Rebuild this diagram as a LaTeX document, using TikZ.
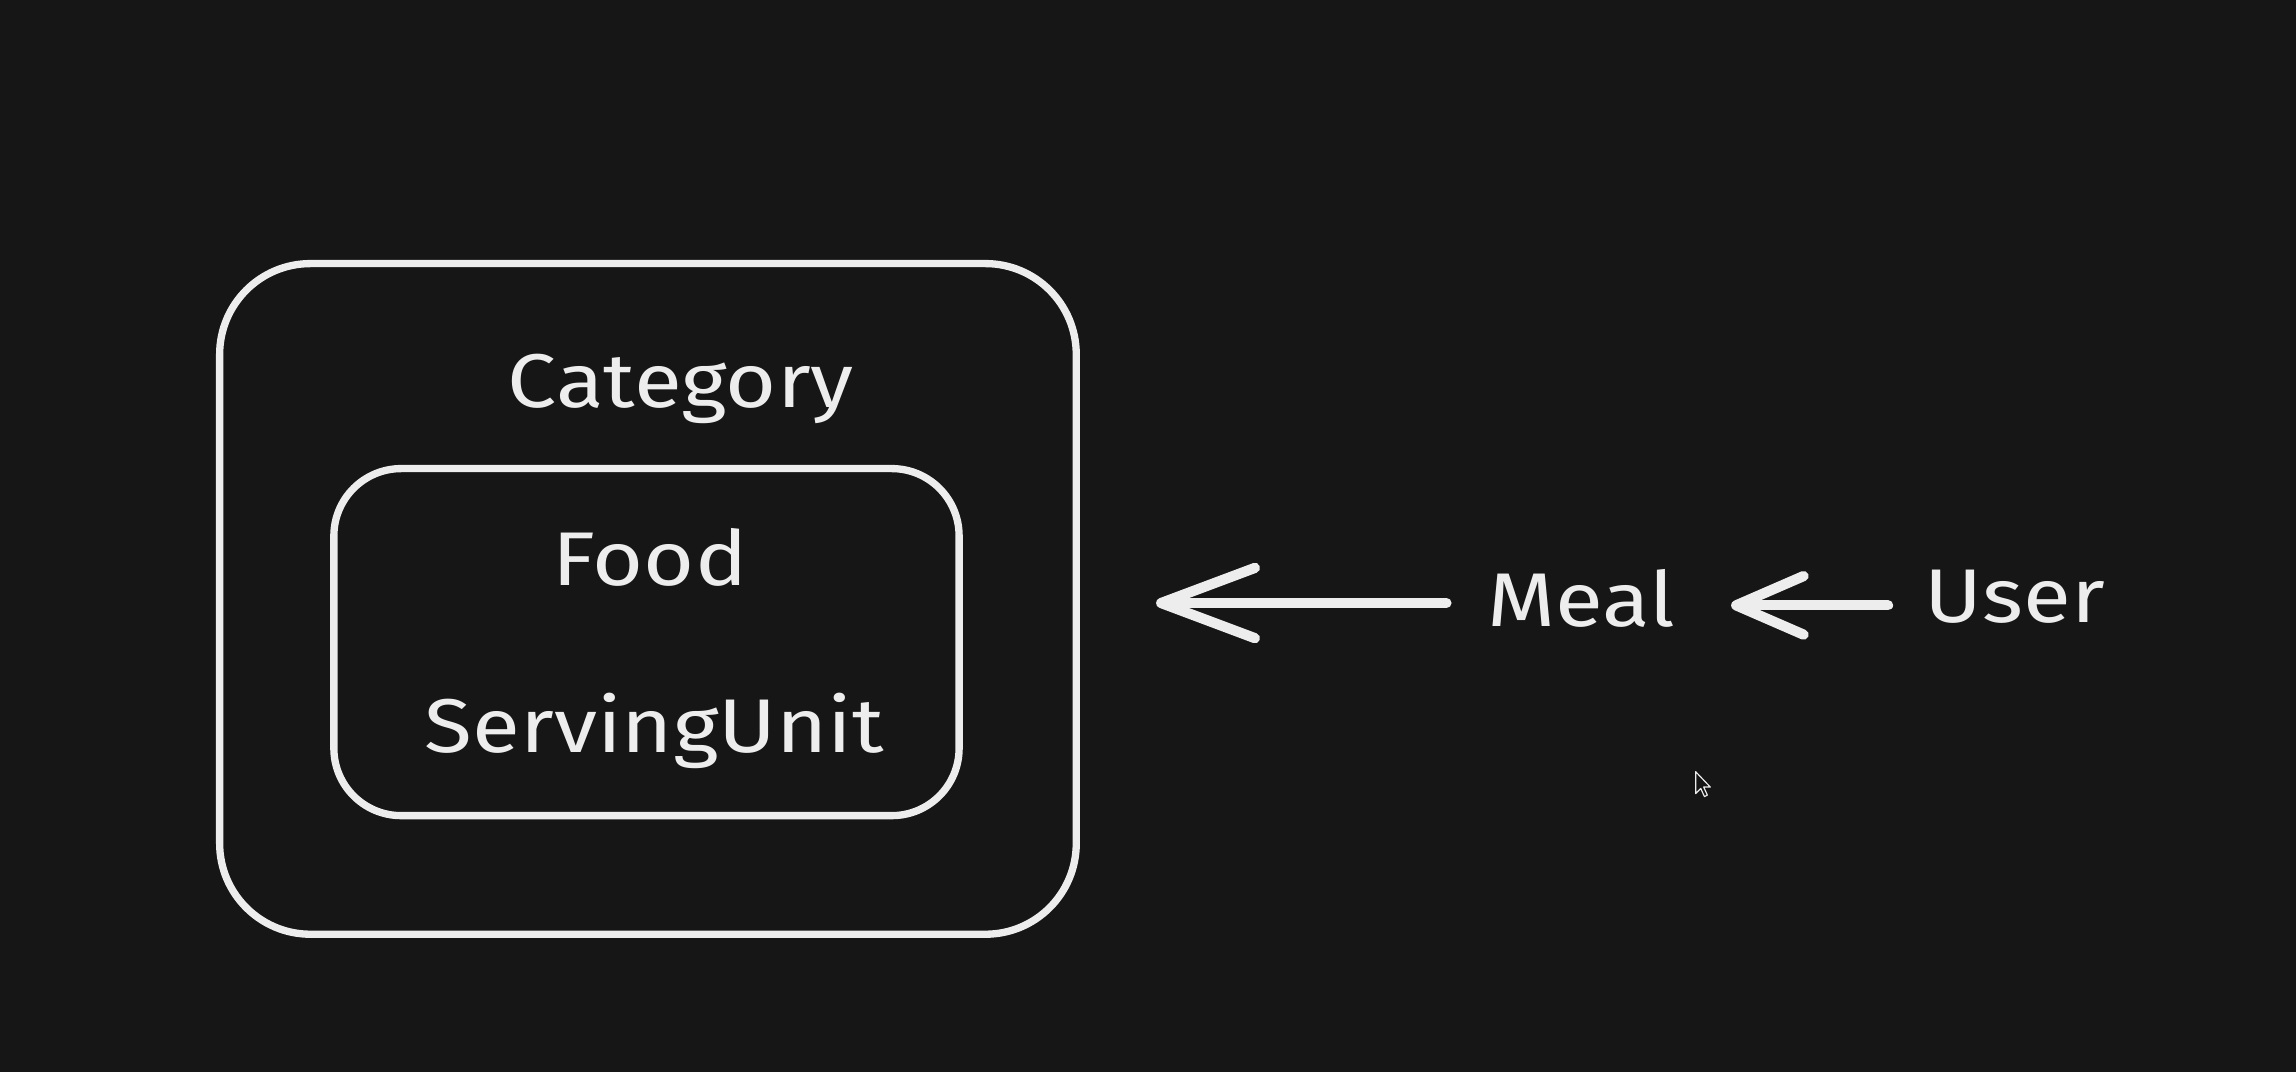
\documentclass[tikz,border=0pt]{standalone}
\usepackage{fontspec}
\usepackage{graphicx}
\setmainfont{Fira Sans}
\usetikzlibrary{arrows.meta}
\definecolor{bg}{HTML}{161616}
\definecolor{ink}{HTML}{EDEDED}
\newcommand{\widetxt}[1]{\scalebox{1.15}[1]{#1}}
\begin{document}
\begin{tikzpicture}[x=1pt,y=-1pt,
  box/.style={draw=ink, line width=5pt, inner sep=0pt},
  lbl/.style={text=ink, font=\fontsize{52}{62}\selectfont, inner sep=0pt, anchor=base},
  arr/.style={draw=ink, line width=7pt, line cap=round}]
\fill[bg] (0,0) rectangle (1568,732);
\useasboundingbox (0,0) rectangle (1568,732);
% boxes
\node[box, rounded corners=62pt, minimum width=585pt, minimum height=458pt] (catbox) at (442.5,409) {};
\node[box, rounded corners=46pt, minimum width=427pt, minimum height=237pt] (foodbox) at (441.5,438.5) {};
% labels
\node[lbl] (cat) at (465,278) {\widetxt{Category}};
\node[lbl] (food) at (444,400) {\widetxt{Food}};
\node[lbl] (unit) at (447,514) {\widetxt{ServingUnit}};
\node[lbl] (meal) at (1080,428) {\widetxt{Meal}};
\node[lbl] (user) at (1376,425) {\widetxt{User}};
% arrow end points
\path ([yshift=-3pt]meal.west) ++(-28,0) coordinate (a1s);
\path (catbox.east |- a1s) ++(52,0) coordinate (a1e);
\path ([yshift=-6pt]user.west) ++(-25,0) coordinate (a2s);
\path (meal.east |- a2s) ++(38,0) coordinate (a2e);
% arrows
\draw[arr, -{Straight Barb[length=64pt, width=48pt, line cap=round, line join=round]}] (a1s) -- (a1e);
\draw[arr, -{Straight Barb[length=46pt, width=40pt, line cap=round, line join=round]}] (a2s) -- (a2e);
% mouse cursor
\draw[ink, fill=bg, line width=0.8pt, line join=round]
  (1158,527) -- (1158,542) -- (1161.5,538.5) -- (1164,544) -- (1166,543) -- (1163.5,537.5) -- (1168,537.5) -- cycle;
\end{tikzpicture}
\end{document}
